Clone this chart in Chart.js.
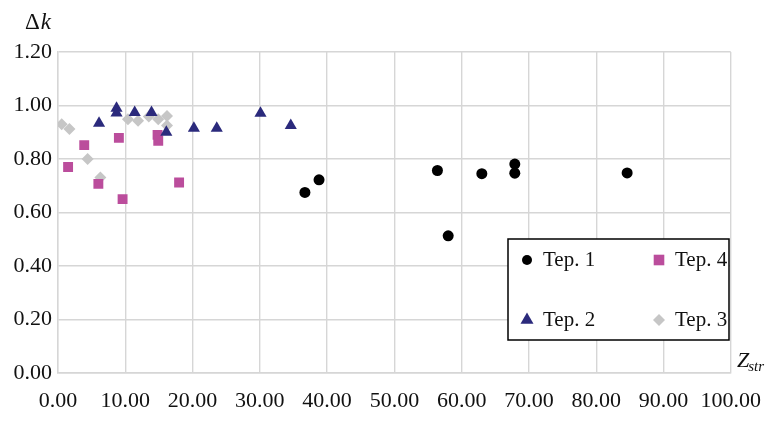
<!DOCTYPE html>
<html>
<head>
<meta charset="utf-8">
<script src="https://cdn.jsdelivr.net/npm/chart.js@4/dist/chart.umd.min.js"></script>
<style>
html,body{margin:0;padding:0;background:#fff;}
#wrap{width:776px;height:428px;position:relative;}
</style>
</head>
<body>
<div id="wrap"><canvas id="c" width="776" height="428"></canvas></div>
<script>
const seriesNames = ["Tep. 1", "Tep. 2", "Tep. 4", "Tep. 3"];
const tep1X = [36.7, 38.8, 56.4, 58.0, 63.0, 67.9, 67.9, 84.6];
const tep1Y = [0.675, 0.722, 0.757, 0.513, 0.745, 0.781, 0.747, 0.748];
const tep2X = [6.1, 8.7, 8.7, 11.4, 13.9, 16.1, 20.2, 23.6, 30.1, 34.6];
const tep2Y = [0.934, 0.990, 0.972, 0.974, 0.974, 0.900, 0.915, 0.915, 0.971, 0.925];
const tep3X = [0.55, 1.7, 4.4, 6.3, 10.4, 11.9, 13.5, 14.9, 16.2, 16.2];
const tep3Y = [0.930, 0.912, 0.800, 0.731, 0.949, 0.943, 0.959, 0.949, 0.961, 0.925];
const tep4X = [1.5, 3.9, 6.0, 9.05, 9.6, 14.8, 14.9, 18.0];
const tep4Y = [0.770, 0.852, 0.707, 0.879, 0.650, 0.890, 0.868, 0.712];
const xTicks = [0, 10, 20, 30, 40, 50, 60, 70, 80, 90, 100];
const yTicks = [0, 0.2, 0.4, 0.6, 0.8, 1.0, 1.2];

const FONT = "'Liberation Serif', 'Times New Roman', serif";
const pts = (xs, ys) => xs.map((x, i) => ({x: x, y: ys[i]}));

const datasets = [
  {label: seriesNames[0], data: pts(tep1X, tep1Y), pointStyle: 'circle', pointRadius: 5.5, backgroundColor: '#000', borderColor: '#000'},
  {label: seriesNames[1], data: pts(tep2X, tep2Y), pointStyle: 'triangle', pointRadius: 7, backgroundColor: '#2b2a7c', borderColor: '#2b2a7c'},
  {label: seriesNames[2], data: pts(tep4X, tep4Y), pointStyle: 'rect', pointRadius: 7, backgroundColor: '#bb4d9c', borderColor: '#bb4d9c'},
  {label: seriesNames[3], data: pts(tep3X, tep3Y), pointStyle: 'rectRot', pointRadius: 6, backgroundColor: '#c6c6c6', borderColor: '#c6c6c6'}
];
datasets.forEach(d => { d.borderWidth = 0; d.pointHoverRadius = d.pointRadius; });

function drawMarker(ctx, style, r, x, y, color) {
  ctx.save();
  ctx.fillStyle = color;
  ctx.beginPath();
  if (style === 'circle') {
    ctx.arc(x, y, r, 0, Math.PI * 2);
  } else if (style === 'triangle') {
    ctx.moveTo(x, y - r);
    ctx.lineTo(x + r * Math.sin(Math.PI / 3), y + r / 2);
    ctx.lineTo(x - r * Math.sin(Math.PI / 3), y + r / 2);
  } else if (style === 'rect') {
    const s = r * Math.SQRT1_2;
    ctx.rect(x - s, y - s, 2 * s, 2 * s);
  } else {
    ctx.moveTo(x, y - r); ctx.lineTo(x + r, y); ctx.lineTo(x, y + r); ctx.lineTo(x - r, y);
  }
  ctx.closePath();
  ctx.fill();
  ctx.restore();
}

const decor = {
  id: 'decor',
  afterDatasetsDraw(chart) {
    const ctx = chart.ctx;
    const a = chart.chartArea;
    // legend box
    const bx = a.left + 450, by = a.top + 187, bw = 221, bh = 101;
    ctx.save();
    ctx.fillStyle = '#fff';
    ctx.fillRect(bx, by, bw, bh);
    ctx.strokeStyle = '#000';
    ctx.lineWidth = 1.5;
    ctx.strokeRect(bx, by, bw, bh);
    const ds = chart.data.datasets;
    const items = [
      {d: ds[0], x: bx + 19, y: by + 21},
      {d: ds[2], x: bx + 151, y: by + 21},
      {d: ds[1], x: bx + 19, y: by + 81},
      {d: ds[3], x: bx + 151, y: by + 81}
    ];
    ctx.font = '21px ' + FONT;
    ctx.textBaseline = 'middle';
    ctx.textAlign = 'left';
    items.forEach(it => {
      const r = it.d.pointStyle === 'circle' ? 5 : (it.d.pointStyle === 'triangle' ? 7.5 : (it.d.pointStyle === 'rect' ? 7.5 : 6));
      drawMarker(ctx, it.d.pointStyle, r, it.x, it.y, it.d.backgroundColor);
      ctx.fillStyle = '#111';
      ctx.fillText(it.d.label, it.x + 16, it.y);
    });
    ctx.restore();
  },
  afterDraw(chart) {
    const ctx = chart.ctx;
    ctx.save();
    ctx.fillStyle = '#111';
    ctx.textBaseline = 'alphabetic';
    ctx.font = '23px ' + FONT;
    ctx.fillText('\u0394', 25, 29);
    const w = ctx.measureText('\u0394').width;
    ctx.font = 'italic 23px ' + FONT;
    ctx.fillText('k', 25 + w + 1, 29);
    ctx.font = 'italic 22px ' + FONT;
    ctx.fillText('Z', 737, 367);
    const zw = ctx.measureText('Z').width;
    ctx.font = 'italic 15px ' + FONT;
    ctx.fillText('str', 737 + zw - 1, 371);
    ctx.restore();
  }
};

new Chart(document.getElementById('c'), {
  type: 'scatter',
  data: {datasets: datasets},
  plugins: [decor],
  options: {
    responsive: false,
    animation: false,
    events: [],
    layout: {padding: {left: 0, top: 52, right: 44, bottom: 0}},
    plugins: {legend: {display: false}, tooltip: {enabled: false}},
    scales: {
      x: {
        type: 'linear', min: 0, max: 100,
        afterBuildTicks: s => { s.ticks = xTicks.map(v => ({value: v})); },
        afterFit: s => { s.height = 55; },
        grid: {color: '#d6d6d6', lineWidth: 1.4, drawTicks: false},
        border: {color: '#d6d6d6', width: 1.4},
        ticks: {
          autoSkip: false, maxRotation: 0, padding: 15, color: '#111',
          font: {family: FONT, size: 22},
          callback: v => Number(v).toFixed(2)
        }
      },
      y: {
        type: 'linear', min: 0, max: 1.2,
        afterBuildTicks: s => { s.ticks = yTicks.map(v => ({value: v})); },
        afterFit: s => { s.width = 58; },
        grid: {color: '#d6d6d6', lineWidth: 1.4, drawTicks: false},
        border: {color: '#d6d6d6', width: 1.4},
        ticks: {
          padding: 6, color: '#111',
          font: {family: FONT, size: 22},
          callback: v => Number(v).toFixed(2)
        }
      }
    }
  }
});
</script>
</body>
</html>
